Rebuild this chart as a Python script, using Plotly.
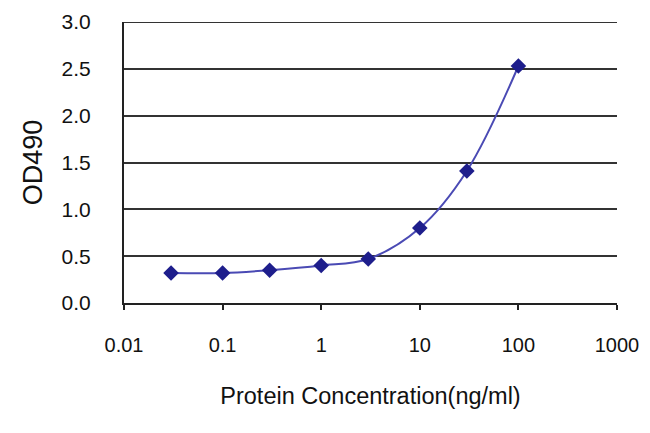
import plotly.graph_objects as go

concentration = [0.03, 0.1, 0.3, 1, 3, 10, 30, 100]
od490 = [0.32, 0.32, 0.35, 0.40, 0.47, 0.80, 1.41, 2.53]

x_ticks = [0.01, 0.1, 1, 10, 100, 1000]
x_tick_labels = ["0.01", "0.1", "1", "10", "100", "1000"]
y_ticks = [0.0, 0.5, 1.0, 1.5, 2.0, 2.5, 3.0]
y_tick_labels = ["0.0", "0.5", "1.0", "1.5", "2.0", "2.5", "3.0"]

fig = go.Figure()
fig.add_trace(go.Scatter(
    x=concentration, y=od490,
    mode="lines+markers",
    line=dict(color="#4a4ab4", width=2, shape="spline", smoothing=1.0),
    marker=dict(symbol="diamond", size=12, color="#1e1e8c"),
    showlegend=False,
    cliponaxis=False,
))

font = "Liberation Sans, Arial, sans-serif"
fig.update_layout(
    width=650, height=433,
    margin=dict(l=124, r=33, t=22, b=130),
    paper_bgcolor="white", plot_bgcolor="white",
    font=dict(family=font, size=20, color="#111111"),
    xaxis=dict(
        type="log", range=[-2, 3],
        tickvals=x_ticks, ticktext=x_tick_labels,
        showgrid=False, showline=True, linecolor="#222222", linewidth=2,
        ticks="outside", ticklen=5, tickwidth=2, tickcolor="#222222",
        ticklabelstandoff=18,
        tickfont=dict(size=20),
        title=dict(text="Protein Concentration(ng/ml)", standoff=33,
                   font=dict(size=23.5)),
        zeroline=False, automargin=False,
    ),
    yaxis=dict(
        range=[0, 3.0],
        tickvals=y_ticks, ticktext=y_tick_labels,
        showgrid=True, gridcolor="#333333", gridwidth=2,
        showline=True, linecolor="#222222", linewidth=2,
        ticks="", ticklabelstandoff=27,
        tickfont=dict(size=21),
        title=dict(text="OD490", standoff=11, font=dict(size=27)),
        zeroline=False, automargin=False,
    ),
    shapes=[dict(type="line", xref="paper", yref="y", x0=0, x1=1, y0=3.0, y1=3.0,
                 line=dict(color="#333333", width=2))],
)

fig.write_html(
    "out.html",
    config={"displayModeBar": False},
    post_script="document.body.style.margin='0';document.body.style.padding='0';",
)
